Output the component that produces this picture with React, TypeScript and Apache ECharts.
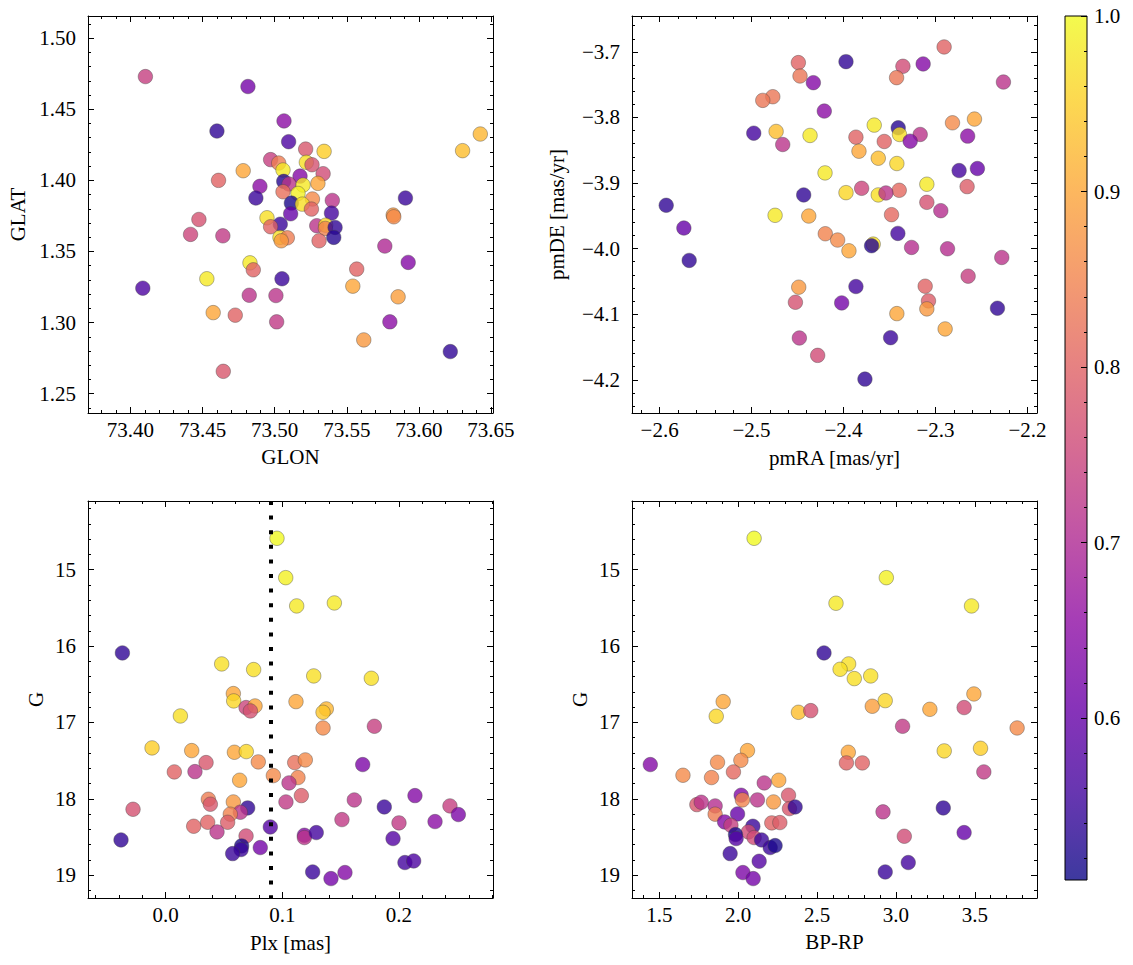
import React, { useEffect, useRef } from "react";
import * as echarts from "echarts";

const FONT = "'Liberation Serif', 'DejaVu Serif', serif";

// [GLON, GLAT, membership probability]
const posData: number[][] = [
  [73.4104, 1.473, 0.74], [73.4815, 1.466, 0.62], [73.5065, 1.4418, 0.65], [73.46, 1.4347, 0.54],
  [73.5097, 1.4272, 0.57], [73.5215, 1.422, 0.78], [73.5343, 1.4204, 0.95], [73.6426, 1.4326, 0.92],
  [73.6303, 1.4209, 0.93], [73.4972, 1.4146, 0.74], [73.5028, 1.4122, 0.84], [73.522, 1.4127, 0.97],
  [73.5259, 1.411, 0.77], [73.5058, 1.4073, 0.98], [73.4782, 1.4068, 0.9], [73.5336, 1.4047, 0.76],
  [73.5176, 1.403, 0.64], [73.4611, 1.4, 0.8], [73.5063, 1.3993, 0.53], [73.51, 1.3974, 0.72],
  [73.5197, 1.3967, 0.98], [73.53, 1.3979, 0.9], [73.4898, 1.3958, 0.65], [73.5058, 1.392, 0.82],
  [73.5162, 1.3908, 0.99], [73.487, 1.3876, 0.55], [73.5262, 1.3869, 0.86], [73.54, 1.3859, 0.72],
  [73.5116, 1.384, 0.52], [73.5192, 1.3833, 0.97], [73.5255, 1.3798, 0.8], [73.5907, 1.3876, 0.55],
  [73.5111, 1.3765, 0.6], [73.5394, 1.377, 0.56], [73.4947, 1.3737, 0.97], [73.5822, 1.3756, 0.88],
  [73.5826, 1.3744, 0.86], [73.4475, 1.3725, 0.77], [73.5039, 1.3692, 0.55], [73.4972, 1.3674, 0.8],
  [73.5292, 1.3681, 0.72], [73.5354, 1.3685, 0.96], [73.5352, 1.3662, 0.85], [73.5419, 1.3669, 0.54],
  [73.4417, 1.362, 0.75], [73.4641, 1.361, 0.73], [73.5037, 1.3599, 0.97], [73.5088, 1.3596, 0.84],
  [73.5046, 1.3575, 0.88], [73.5308, 1.3575, 0.8], [73.541, 1.3599, 0.53], [73.5764, 1.3538, 0.7],
  [73.5926, 1.3423, 0.64], [73.4829, 1.342, 0.98], [73.4852, 1.3371, 0.8], [73.5569, 1.3376, 0.8],
  [73.453, 1.3308, 0.98], [73.5051, 1.3308, 0.55], [73.4086, 1.3242, 0.57], [73.5542, 1.3256, 0.9],
  [73.5856, 1.3181, 0.89], [73.4824, 1.3192, 0.72], [73.5009, 1.319, 0.72], [73.4574, 1.307, 0.9],
  [73.4727, 1.3052, 0.8], [73.5014, 1.3005, 0.73], [73.5799, 1.3005, 0.65], [73.5618, 1.2878, 0.88],
  [73.6218, 1.2796, 0.54], [73.4644, 1.2657, 0.78],
];

// [pmRA, pmDE, membership probability]
const pmData: number[][] = [
  [-2.2906, -3.6924, 0.8], [-2.3973, -3.7148, 0.54], [-2.4491, -3.7163, 0.8], [-2.3134, -3.7183, 0.64],
  [-2.3354, -3.7219, 0.76], [-2.4473, -3.7367, 0.83], [-2.3423, -3.7392, 0.83], [-2.4328, -3.7469, 0.64],
  [-2.2261, -3.7459, 0.72], [-2.4769, -3.7683, 0.83], [-2.4878, -3.7739, 0.83], [-2.4209, -3.7902, 0.65],
  [-2.2576, -3.8024, 0.9], [-2.2815, -3.8081, 0.86], [-2.3666, -3.8116, 0.98], [-2.3405, -3.8157, 0.53],
  [-2.3391, -3.8259, 0.97], [-2.4976, -3.8239, 0.56], [-2.4733, -3.8213, 0.93], [-2.4364, -3.8274, 0.98],
  [-2.3166, -3.8259, 0.72], [-2.3275, -3.8361, 0.64], [-2.3865, -3.83, 0.8], [-2.3557, -3.8366, 0.8],
  [-2.265, -3.8284, 0.65], [-2.4661, -3.8412, 0.72], [-2.3832, -3.8514, 0.9], [-2.3622, -3.8621, 0.93],
  [-2.342, -3.8702, 0.96], [-2.4201, -3.8845, 0.98], [-2.2743, -3.8809, 0.56], [-2.2544, -3.8778, 0.6],
  [-2.3094, -3.9018, 0.98], [-2.2656, -3.9054, 0.79], [-2.3803, -3.908, 0.75], [-2.3394, -3.911, 0.81],
  [-2.3973, -3.9146, 0.96], [-2.3622, -3.9181, 0.97], [-2.3539, -3.9151, 0.72], [-2.4433, -3.9181, 0.54],
  [-2.5928, -3.9339, 0.54], [-2.3094, -3.9294, 0.77], [-2.2942, -3.9421, 0.71], [-2.4744, -3.9492, 0.98],
  [-2.4378, -3.9503, 0.9], [-2.3478, -3.9482, 0.81], [-2.5736, -3.9686, 0.6], [-2.4198, -3.9773, 0.85],
  [-2.4064, -3.9869, 0.86], [-2.3409, -3.9768, 0.56], [-2.3677, -3.9931, 0.97], [-2.3695, -3.9956, 0.53],
  [-2.326, -3.9982, 0.71], [-2.2869, -4.0002, 0.71], [-2.3941, -4.0033, 0.9], [-2.5678, -4.018, 0.54],
  [-2.2279, -4.0135, 0.72], [-2.2645, -4.042, 0.74], [-2.4487, -4.0588, 0.88], [-2.3865, -4.0578, 0.56],
  [-2.3112, -4.0573, 0.8], [-2.4523, -4.0818, 0.77], [-2.402, -4.0828, 0.62], [-2.3076, -4.0797, 0.79],
  [-2.3094, -4.0919, 0.88], [-2.342, -4.0991, 0.9], [-2.2326, -4.0909, 0.54], [-2.2895, -4.1225, 0.9],
  [-2.448, -4.1363, 0.72], [-2.3488, -4.1358, 0.55], [-2.4281, -4.1628, 0.76], [-2.3767, -4.199, 0.54],
];

// [Plx, G, membership probability]
const plxData: number[][] = [
  [0.0954, 14.59, 1.0], [0.1029, 15.105, 0.99], [0.1123, 15.475, 0.98], [0.1446, 15.436, 0.98],
  [-0.0371, 16.09, 0.54], [0.048, 16.234, 0.97], [0.0754, 16.308, 0.97], [0.1269, 16.391, 0.97],
  [0.1763, 16.422, 0.97], [0.058, 16.622, 0.9], [0.0583, 16.718, 0.96], [0.0689, 16.805, 0.75],
  [0.0766, 16.784, 0.9], [0.0726, 16.849, 0.77], [0.1117, 16.727, 0.9], [0.1377, 16.823, 0.92],
  [0.1349, 16.867, 0.94], [0.0126, 16.915, 0.97], [0.1349, 17.072, 0.86], [0.1789, 17.05, 0.74],
  [-0.0117, 17.333, 0.95], [0.0223, 17.368, 0.9], [0.0589, 17.39, 0.9], [0.0691, 17.381, 0.96],
  [0.0074, 17.647, 0.8], [0.0251, 17.643, 0.72], [0.0346, 17.525, 0.78], [0.0794, 17.516, 0.86],
  [0.1106, 17.525, 0.82], [0.1197, 17.49, 0.86], [0.1689, 17.551, 0.63], [0.0634, 17.756, 0.9],
  [0.0923, 17.695, 0.86], [0.1134, 17.721, 0.85], [0.1057, 17.791, 0.72], [0.0366, 18.005, 0.84],
  [0.0383, 18.07, 0.78], [0.058, 18.04, 0.88], [0.1031, 18.04, 0.73], [0.1163, 17.957, 0.79],
  [0.1617, 18.014, 0.72], [0.2137, 17.957, 0.64], [-0.028, 18.136, 0.77], [0.0703, 18.118, 0.54],
  [0.064, 18.175, 0.72], [0.0554, 18.2, 0.85], [0.1874, 18.105, 0.55], [0.2437, 18.092, 0.74],
  [0.2509, 18.205, 0.63], [0.024, 18.358, 0.8], [0.036, 18.306, 0.8], [0.0531, 18.306, 0.79],
  [0.044, 18.432, 0.72], [0.0897, 18.367, 0.58], [0.1511, 18.271, 0.73], [0.2, 18.314, 0.73],
  [0.2309, 18.297, 0.65], [0.0689, 18.485, 0.76], [0.1189, 18.476, 0.64], [0.1189, 18.506, 0.72],
  [0.1291, 18.441, 0.56], [-0.0383, 18.537, 0.54], [0.1949, 18.519, 0.58], [0.0651, 18.615, 0.52],
  [0.0646, 18.663, 0.55], [0.0574, 18.716, 0.55], [0.0811, 18.637, 0.62], [0.2051, 18.833, 0.56],
  [0.2126, 18.812, 0.57], [0.126, 18.956, 0.55], [0.1417, 19.043, 0.62], [0.1537, 18.964, 0.64],
];

// [BP-RP, G, membership probability]
const cmdData: number[][] = [
  [2.101, 14.59, 1.0], [2.939, 15.105, 0.99], [2.62, 15.44, 0.98], [3.479, 15.475, 0.98],
  [2.544, 16.09, 0.54], [2.7, 16.234, 0.97], [2.646, 16.304, 0.97], [2.736, 16.426, 0.97],
  [2.84, 16.391, 0.97], [3.494, 16.627, 0.9], [1.905, 16.727, 0.9], [1.861, 16.919, 0.96],
  [2.382, 16.867, 0.93], [2.46, 16.845, 0.77], [2.85, 16.788, 0.89], [2.932, 16.714, 0.96],
  [3.215, 16.828, 0.9], [3.432, 16.805, 0.76], [3.042, 17.05, 0.73], [3.768, 17.072, 0.86],
  [2.059, 17.368, 0.9], [2.698, 17.39, 0.9], [3.306, 17.372, 0.96], [3.536, 17.338, 0.95],
  [1.443, 17.551, 0.64], [1.869, 17.521, 0.86], [2.017, 17.495, 0.86], [2.686, 17.529, 0.8],
  [2.787, 17.529, 0.8], [3.557, 17.647, 0.73], [1.65, 17.691, 0.86], [1.831, 17.721, 0.85],
  [1.97, 17.647, 0.81], [2.257, 17.756, 0.9], [2.165, 17.791, 0.72], [1.738, 18.075, 0.78],
  [1.766, 18.044, 0.72], [1.854, 18.092, 0.71], [1.854, 18.2, 0.84], [2.019, 17.952, 0.64],
  [2.027, 18.013, 0.85], [2.122, 18.013, 0.72], [2.224, 18.04, 0.88], [2.319, 17.952, 0.78],
  [2.325, 18.127, 0.78], [2.361, 18.105, 0.54], [1.996, 18.197, 0.6], [1.914, 18.301, 0.64],
  [1.954, 18.345, 0.74], [2.213, 18.314, 0.8], [2.264, 18.31, 0.79], [2.093, 18.358, 0.55],
  [2.065, 18.432, 0.76], [1.983, 18.467, 0.52], [1.987, 18.519, 0.58], [2.101, 18.506, 0.76],
  [2.148, 18.537, 0.55], [2.203, 18.637, 0.55], [2.234, 18.611, 0.52], [1.949, 18.716, 0.55],
  [2.133, 18.816, 0.58], [2.03, 18.964, 0.63], [2.095, 19.043, 0.62], [2.918, 18.17, 0.72],
  [3.3, 18.118, 0.54], [3.053, 18.489, 0.76], [3.432, 18.441, 0.6], [3.078, 18.833, 0.56],
  [2.932, 18.956, 0.55],
];

// Axis ticks (major, labelled)
const glonTicks = [73.4, 73.45, 73.5, 73.55, 73.6, 73.65];
const glatTicks = [1.25, 1.3, 1.35, 1.4, 1.45, 1.5];
const pmraTicks = [-2.6, -2.5, -2.4, -2.3, -2.2];
const pmdeTicks = [-4.2, -4.1, -4.0, -3.9, -3.8, -3.7];
const plxTicks = [0.0, 0.1, 0.2];
const gTicks = [15, 16, 17, 18, 19];
const bprpTicks = [1.5, 2.0, 2.5, 3.0, 3.5];
const probTicks = [0.6, 0.7, 0.8, 0.9, 1.0];

const plxCut = 0.09;
const probMin = 0.5077;
const probMax = 1.0;

const plasma = [
  "#0d0887", "#41049d", "#6a00a8", "#8f0da4", "#b12a90", "#cc4778",
  "#e16462", "#f2844b", "#fca636", "#fcce25", "#f0f921",
];

function minorTicks(min: number, max: number, step: number, majors: number[]) {
  const out: number[] = [];
  const start = Math.ceil(min / step - 1e-9);
  for (let k = start; k * step <= max + 1e-9; k++) {
    const v = +(k * step).toFixed(6);
    if (!majors.some((m) => Math.abs(m - v) < step / 10)) out.push(v);
  }
  return out;
}

const fmt = (d: number) => (v: number) => {
  const s = Number(v).toFixed(d);
  return s.startsWith("-") ? "\u2212" + s.slice(1) : s;
};

const BLACK = "#000";
const labelStyle = { color: BLACK, fontFamily: FONT, fontSize: 21 };
const nameStyle = { color: BLACK, fontFamily: FONT, fontSize: 21 };

function axisSet(
  dim: "x" | "y",
  grid: number,
  min: number,
  max: number,
  majors: number[],
  minorStep: number,
  decimals: number,
  name: string,
  nameGap: number,
  inverse = false
) {
  const minors = minorTicks(min, max, minorStep, majors);
  const p1 = dim === "x" ? "bottom" : "left";
  const p2 = dim === "x" ? "top" : "right";
  const base = {
    type: "value",
    gridIndex: grid,
    min,
    max,
    inverse,
    splitLine: { show: false },
    axisLine: { show: false, onZero: false },
    axisLabel: { show: false },
  };
  const majorTick = {
    show: true,
    inside: true,
    length: 6,
    customValues: majors,
    lineStyle: { color: BLACK, width: 1 },
  };
  const minorTick = {
    show: true,
    inside: true,
    length: 3,
    customValues: minors,
    lineStyle: { color: BLACK, width: 1 },
  };
  const line = { show: true, onZero: false, lineStyle: { color: BLACK, width: 1 } };
  return [
    {
      ...base,
      position: p1,
      axisLine: line,
      axisTick: majorTick,
      axisLabel: {
        show: true,
        customValues: majors,
        formatter: fmt(decimals),
        margin: dim === "x" ? 6 : 12,
        ...labelStyle,
      },
      name,
      nameLocation: "middle",
      nameGap,
      nameTextStyle: { ...nameStyle },
    },
    { ...base, position: p1, axisTick: minorTick },
    { ...base, position: p2, axisLine: line, axisTick: majorTick },
    { ...base, position: p2, axisTick: minorTick },
  ];
}

export default function App() {
  const ref = useRef<HTMLDivElement>(null);

  useEffect(() => {
    document.body.style.margin = "0";
    const chart = echarts.init(ref.current!, null, { renderer: "svg" });

    const grids = [
      { left: 88, top: 16, width: 405, height: 397 },
      { left: 632, top: 16, width: 405, height: 397 },
      { left: 88, top: 501, width: 405, height: 397 },
      { left: 632, top: 501, width: 405, height: 397 },
      { left: 1065, top: 16, width: 22, height: 864 },
    ];

    const xAxis: any[] = [
      ...axisSet("x", 0, 73.3706, 73.6514, glonTicks, 0.01, 2, "GLON", 33),
      ...axisSet("x", 1, -2.63, -2.1896, pmraTicks, 0.02, 1, "pmRA [mas/yr]", 34),
      ...axisSet("x", 2, -0.0666, 0.2806, plxTicks, 0.02, 1, "Plx [mas]", 34),
      ...axisSet("x", 3, 1.327, 3.894, bprpTicks, 0.1, 1, "BP-RP", 33),
      { type: "value", gridIndex: 4, min: 0, max: 1, show: false },
    ];
    const yAxis: any[] = [
      ...axisSet("y", 0, 1.2364, 1.5156, glatTicks, 0.01, 2, "GLAT", 60),
      ...axisSet("y", 1, -4.2507, -3.6452, pmdeTicks, 0.02, 1, "pmDE [mas/yr]", 65),
      ...axisSet("y", 2, 14.102, 19.297, gTicks, 0.2, 0, "G", 42, true),
      ...axisSet("y", 3, 14.102, 19.297, gTicks, 0.2, 0, "G", 42, true),
      {
        type: "value",
        gridIndex: 4,
        min: probMin,
        max: probMax,
        position: "right",
        z: 20,
        splitLine: { show: false },
        axisLine: { show: false, onZero: false },
        axisTick: {
          show: true,
          inside: true,
          length: 6,
          customValues: probTicks,
          lineStyle: { color: BLACK, width: 1 },
        },
        axisLabel: {
          show: true,
          customValues: probTicks,
          formatter: fmt(1),
          margin: 7,
          ...labelStyle,
        },
      },
      {
        type: "value",
        gridIndex: 4,
        min: probMin,
        max: probMax,
        position: "right",
        z: 20,
        splitLine: { show: false },
        axisLine: { show: false, onZero: false },
        axisLabel: { show: false },
        axisTick: {
          show: true,
          inside: true,
          length: 3,
          customValues: minorTicks(probMin, probMax, 0.02, probTicks),
          lineStyle: { color: BLACK, width: 1 },
        },
      },
    ];

    const scatterStyle = {
      opacity: 0.8,
      borderColor: "#444",
      borderWidth: 0.5,
    };
    const datasets = [posData, pmData, plxData, cmdData];
    const series: any[] = datasets.map((d, i) => ({
      type: "scatter",
      xAxisIndex: i * 4,
      yAxisIndex: i * 4,
      data: d,
      symbol: "circle",
      symbolSize: 14.5,
      itemStyle: scatterStyle,
      z: 2,
    }));
    series[2].markLine = {
      silent: true,
      symbol: ["none", "none"],
      label: { show: false },
      lineStyle: { color: BLACK, width: 4, type: [4, 10.6], cap: "butt" },
      data: [{ xAxis: plxCut }],
    };

    const cb = grids[4];
    chart.setOption({
      animation: false,
      backgroundColor: "#fff",
      grid: grids,
      xAxis,
      yAxis,
      visualMap: {
        type: "continuous",
        show: false,
        min: probMin,
        max: probMax,
        dimension: 2,
        seriesIndex: [0, 1, 2, 3],
        inRange: { color: plasma },
      },
      graphic: [
        {
          type: "rect",
          z: 1,
          shape: { x: cb.left, y: cb.top, width: cb.width, height: cb.height },
          style: {
            opacity: 0.8,
            fill: new echarts.graphic.LinearGradient(
              0, 1, 0, 0,
              plasma.map((c, i) => ({ offset: i / (plasma.length - 1), color: c }))
            ),
          },
        },
        {
          type: "rect",
          z: 30,
          shape: { x: cb.left, y: cb.top, width: cb.width, height: cb.height },
          style: { fill: "none", stroke: BLACK, lineWidth: 1 },
        },
      ],
      series,
    });

    return () => chart.dispose();
  }, []);

  return (
    <div
      ref={ref}
      style={{ position: "absolute", left: 0, top: 0, width: 1133, height: 965 }}
    />
  );
}
